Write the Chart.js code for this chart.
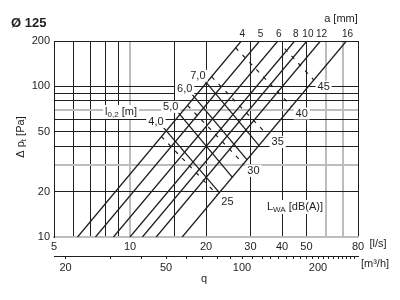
<!DOCTYPE html>
<html lang="de">
<head>
<meta charset="UTF-8">
<title>Ø 125</title>
<script src="https://cdn.jsdelivr.net/npm/chart.js"></script>
<style>
  body { margin: 0; background: #fff; }
</style>
</head>
<body>
<canvas id="chartCanvas" width="400" height="300"></canvas>
<script>
// slot width a [mm]: each line runs from q at 10 Pa to q at 200 Pa
const slotA = [4, 5, 6, 8, 10, 12, 16];
const slotQ10 = [6.2, 7.3, 8.6, 10.0, 11.2, 12.7, 16.1];
const slotQ200 = [27.6, 32.6, 38.5, 44.9, 50.2, 56.8, 72.0];

// throw l0,2 [m]: [q, p] at start and end
const throwL = ['4,0', '5,0', '6,0', '7,0'];
const throwStart = [[13.5, 53.8], [15.45, 67.7], [17.55, 89.2], [19.8, 108.8]];
const throwEnd = [[22.6, 19.7], [25.4, 25.0], [29.1, 32.5], [32.4, 40.6]];

// sound power LWA [dB(A)]: [q, p] at start and end
const lwaLevels = [25, 30, 35, 40, 45];
const lwaStart = [[13.3, 46.5], [16.9, 74.8], [21.05, 115.9], [26.2, 180.4], [41.0, 178]];
const lwaEnd = [[22.2, 19.05], [28.15, 30.6], [35.1, 47.5], [43.7, 73.5], [53.4, 110.5]];

// axes
const xTicks = [5, 6, 7, 8, 9, 10, 15, 20, 30, 40, 50, 60, 70, 80];
const xLabels = [5, 10, 20, 30, 40, 50, 80];
const xGray = [10, 60, 70];
const yTicks = [10, 20, 30, 40, 50, 60, 70, 80, 90, 100, 200];
const yLabels = [10, 20, 50, 100, 200];
const yGray = [10, 30, 70];
const m3hTicks = [20, 30, 40, 50, 60, 70, 80, 90, 100, 110, 120, 130, 140, 150, 160, 170, 180, 190, 200, 210, 220, 230, 240, 250, 260, 270, 280];
const m3hLabels = [20, 50, 100, 200];

const ink = '#1e1e1e';
const gray = '#bdbdbd';
const face = "'Liberation Sans', Arial, sans-serif";

Chart.defaults.font.family = face;
Chart.defaults.font.size = 11;
Chart.defaults.color = ink;

function seg(a, b) {
    return [{ x: a[0], y: a[1] }, { x: b[0], y: b[1] }];
}

const datasets = [];
slotA.forEach((a, i) => {
    datasets.push({ data: seg([slotQ10[i], 10], [slotQ200[i], 200]), borderColor: ink, borderWidth: 1.3 });
});
throwL.forEach((l, i) => {
    datasets.push({ data: seg(throwStart[i], throwEnd[i]), borderColor: ink, borderWidth: 1.3 });
});
lwaLevels.forEach((l, i) => {
    datasets.push({ data: seg(lwaStart[i], lwaEnd[i]), borderColor: ink, borderWidth: 1.2, borderDash: [4, 6] });
});

function boxed(ctx, text, cx, cy) {
    const w = ctx.measureText(text).width;
    ctx.fillStyle = '#fff';
    ctx.fillRect(cx - w / 2 - 2, cy - 6, w + 4, 12);
    ctx.fillStyle = ink;
    ctx.fillText(text, cx, cy);
}

// text with sub/superscripts: parts = [text, size, dy]
function rich(ctx, parts, cx, cy, bg) {
    let w = 0;
    parts.forEach(p => { ctx.font = p[1] + 'px ' + face; w += ctx.measureText(p[0]).width; });
    if (bg) {
        ctx.fillStyle = '#fff';
        ctx.fillRect(cx - w / 2 - 2, cy - 7, w + 4, 14);
    }
    ctx.fillStyle = ink;
    ctx.textAlign = 'left';
    let px = cx - w / 2;
    parts.forEach(p => {
        ctx.font = p[1] + 'px ' + face;
        ctx.fillText(p[0], px, cy + (p[2] || 0));
        px += ctx.measureText(p[0]).width;
    });
}

const notes = {
    id: 'notes',
    afterDatasetsDraw(chart) {
        const { ctx, scales: { x, y } } = chart;
        ctx.save();
        ctx.textBaseline = 'middle';
        ctx.fillStyle = ink;

        ctx.font = 'bold 13px ' + face;
        ctx.textAlign = 'left';
        ctx.fillText('Ø 125', 11, 23);

        ctx.font = '11px ' + face;
        ctx.textAlign = 'center';
        ctx.fillText('a [mm]', 341, 19);
        ctx.font = '10px ' + face;
        slotA.forEach((a, i) => ctx.fillText(String(a), x.getPixelForValue(slotQ200[i]) + 1, 34));

        ctx.font = '11px ' + face;
        throwL.forEach((l, i) => {
            boxed(ctx, l, x.getPixelForValue(throwStart[i][0]) - 7, y.getPixelForValue(throwStart[i][1]) - 5);
        });
        lwaLevels.forEach((l, i) => {
            boxed(ctx, String(l), x.getPixelForValue(lwaEnd[i][0]) + 10, y.getPixelForValue(lwaEnd[i][1]) + 7);
        });

        rich(ctx, [['l', 11], ['0,2', 8, 3], [' [m]', 11]], 121, 112, true);
        rich(ctx, [['L', 11], ['WA', 8, 3], [' [dB(A)]', 11]], 295, 207, true);

        ctx.font = '11px ' + face;
        ctx.textAlign = 'center';
        ctx.fillText('[l/s]', 378, 244);
        ctx.fillText('[m³/h]', 375, 264);
        ctx.fillText('q', 204, 279);

        ctx.translate(21, 137);
        ctx.rotate(-Math.PI / 2);
        rich(ctx, [['Δ p', 11], ['t', 8, 3], [' [Pa]', 11]], 0, 0, false);
        ctx.restore();
    }
};

const ctx = document.getElementById('chartCanvas').getContext('2d');
new Chart(ctx, {
    type: 'scatter',
    data: { datasets: datasets },
    options: {
        responsive: false,
        animation: false,
        showLine: true,
        elements: { point: { radius: 0, hoverRadius: 0 }, line: { tension: 0 } },
        layout: { padding: { top: 41, left: 0, right: 42, bottom: 14 } },
        plugins: { legend: { display: false }, tooltip: { enabled: false } },
        scales: {
            x: {
                type: 'logarithmic', position: 'bottom', weight: 0, min: 5, max: 80,
                afterBuildTicks: s => { s.ticks = xTicks.map(v => ({ value: v })); },
                afterFit: s => { s.height = 19; },
                grid: {
                    drawTicks: false,
                    color: c => xGray.includes(c.tick && c.tick.value) ? gray : ink,
                    lineWidth: c => xGray.includes(c.tick && c.tick.value) ? 2 : 1
                },
                border: { color: gray, width: 2 },
                ticks: {
                    autoSkip: false, maxRotation: 0, padding: 3,
                    callback: v => xLabels.includes(v) ? String(v) : ''
                }
            },
            x2: {
                type: 'logarithmic', position: 'bottom', weight: 1, min: 18, max: 288,
                afterBuildTicks: s => { s.ticks = m3hTicks.map(v => ({ value: v })); },
                afterFit: s => { s.height = 30; },
                grid: { drawOnChartArea: false, color: ink, tickLength: 3, lineWidth: 1 },
                border: { color: ink, width: 1 },
                ticks: {
                    autoSkip: false, maxRotation: 0, padding: 2,
                    callback: v => m3hLabels.includes(v) ? String(v) : ''
                }
            },
            y: {
                type: 'logarithmic', position: 'left', min: 10, max: 200,
                afterBuildTicks: s => { s.ticks = yTicks.map(v => ({ value: v })); },
                afterFit: s => { s.width = 54; },
                grid: {
                    drawTicks: false,
                    color: c => yGray.includes(c.tick && c.tick.value) ? gray : ink,
                    lineWidth: c => yGray.includes(c.tick && c.tick.value) ? 2 : 1
                },
                border: { color: ink, width: 1 },
                ticks: {
                    autoSkip: false, padding: 4,
                    callback: v => yLabels.includes(v) ? String(v) : ''
                }
            }
        }
    },
    plugins: [notes]
});
</script>
</body>
</html>
